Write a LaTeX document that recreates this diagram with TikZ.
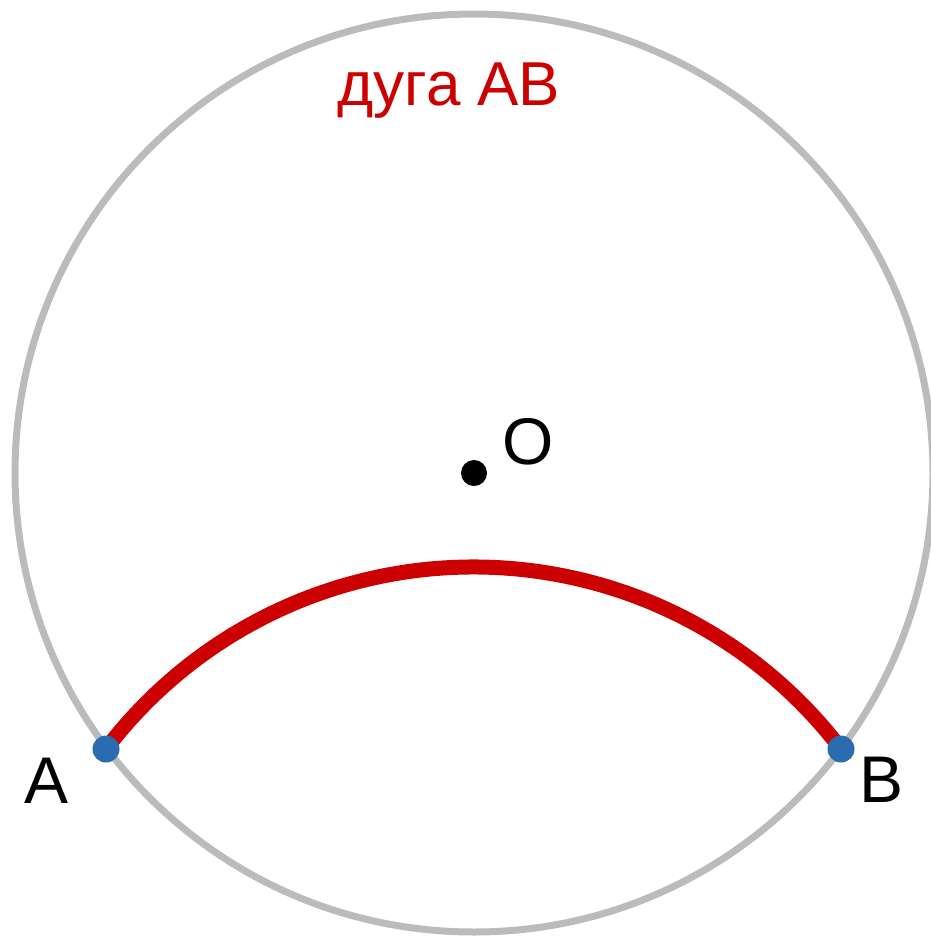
\documentclass[tikz,border=0pt]{standalone}
\usepackage{fontspec}
\setmainfont{Liberation Sans}
\definecolor{arcred}{HTML}{CC0000}
\definecolor{ptblue}{HTML}{2B6CB0}
\definecolor{circgray}{HTML}{BBBBBB}
\begin{document}
\begin{tikzpicture}[x=1pt,y=-1pt,
  dotpt/.style={circle,inner sep=0pt,minimum size=27pt},
  lbl/.style={anchor=base,inner sep=0pt,font=\fontsize{66}{66}\selectfont}]
\useasboundingbox (0,0) rectangle (930,937);
\draw[circgray,line width=7pt] (474,473) circle[radius=459];
\coordinate (A) at (106,749);
\coordinate (B) at (841,749);
\draw[arcred,line width=15pt] (A) arc[start angle=-142.7,end angle=-37.3,radius=462];
\node[dotpt,fill=ptblue] (Adot) at (A) {};
\node[dotpt,fill=ptblue] (Bdot) at (B) {};
\node[dotpt,fill=black,minimum size=26pt] (O) at (474,473) {};
\node[lbl] (Olbl) at (528,464) {O};
\node[lbl] (Albl) at (47,803) {A};
\node[lbl] (Blbl) at (882,802) {B};
\node[anchor=base,inner sep=0pt,text=arcred,font=\fontsize{62}{62}\selectfont] (title) at (449,105) {дуга AB};
\end{tikzpicture}
\end{document}
